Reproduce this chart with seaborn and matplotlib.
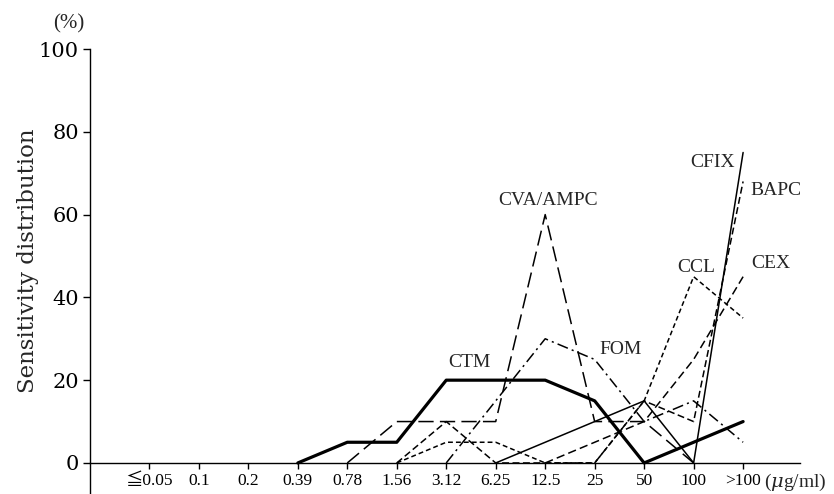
import numpy as np
import pandas as pd
import seaborn as sns
import matplotlib
matplotlib.use("Agg")
from matplotlib import pyplot as plt

nan = np.nan

# MIC classes (x axis)
mic_labels = ['≦0.05', '0.1', '0.2', '0.39', '0.78', '1.56', '3.12',
              '6.25', '12.5', '25', '50', '100', '>100']

# sensitivity distribution (%) per drug
ctm  = [nan, nan, nan, 0, 5, 5, 20, 20, 20, 15, 0, 5, 10]
cva  = [nan, nan, nan, nan, 0, 10, 10, 10, 60, 10, 10, 0, nan]
fom  = [nan, nan, nan, nan, nan, nan, 0, 15, 30, 25, 10, 15, 5]
ccl  = [nan, nan, nan, nan, nan, 0, 5, 5, 0, 0, 15, 45, 35]
cex  = [nan, nan, nan, nan, nan, nan, nan, nan, 0, 5, 10, 25, 45]
cfix = [nan, nan, nan, nan, nan, nan, nan, 0, 5, 10, 15, 0, 75]
bapc = [nan, nan, nan, nan, nan, 0, 10, 0, 0, 0, 15, 10, 68]

drugs = ['CTM', 'CVA/AMPC', 'FOM', 'CCL', 'CEX', 'CFIX', 'BAPC']
series = [ctm, cva, fom, ccl, cex, cfix, bapc]

rows = []
for name, vals in zip(drugs, series):
    for i, v in enumerate(vals):
        if not np.isnan(v):
            rows.append({'drug': name, 'x': i, 'pct': v})
df = pd.DataFrame(rows)

sns.set_style("ticks")
plt.rcParams['font.family'] = ['Liberation Serif', 'Noto Sans CJK JP']
plt.rcParams['mathtext.fontset'] = 'dejavuserif'
plt.rcParams['lines.scale_dashes'] = False

fig = plt.figure(figsize=(8.34, 4.94), dpi=100)
ax = fig.add_axes([90 / 834, 0, (800 - 90) / 834, (494 - 49) / 494])

dash_map = {
    'CTM': '',
    'CVA/AMPC': (11, 4.5),
    'FOM': (8, 3, 1.5, 3),
    'CCL': (3.5, 2.2),
    'CEX': (6, 3),
    'CFIX': '',
    'BAPC': (5, 2.5),
}
size_map = {d: 1.1 for d in drugs}
size_map['CTM'] = 2.3

sns.lineplot(data=df, x='x', y='pct', style='drug', size='drug',
             dashes=dash_map, sizes=size_map, color='black',
             legend=False, ax=ax, sort=False)

ax.set_xlim(-1.2, 13.15)
ax.set_ylim(-7.5, 100)
ax.spines['top'].set_visible(False)
ax.spines['right'].set_visible(False)
ax.spines['bottom'].set_position(('data', 0))
for s in ['bottom', 'left']:
    ax.spines[s].set_linewidth(1.0)
    ax.spines[s].set_color('black')

ax.set_xticks(range(len(mic_labels)))
ax.set_xticklabels(mic_labels, fontsize=12.5)
ax.set_yticks([0, 20, 40, 60, 80, 100])
ax.set_yticklabels(['0', '20', '40', '60', '80', '100'], fontsize=15,
                   family='DejaVu Serif')
ax.tick_params(axis='x', direction='out', length=4, width=1, pad=3, colors='black')
ax.tick_params(axis='y', direction='out', length=5, width=1, pad=3, colors='black')
ax.set_xlabel('')
ax.set_ylabel('')

ax.text(12.42, -2.2, '($\\mu$g/ml)', fontsize=14, ha='left', va='top',
        clip_on=False)

fig.text(69 / 834, 1 - 24 / 494, '(%)', fontsize=15, ha='center', va='center')
fig.text(28 / 834, 1 - 261 / 494, 'Sensitivity distribution', fontsize=16.5,
         rotation=90, ha='center', va='center', family='DejaVu Serif')

# labels next to the curves
labels = {
    'CTM': (6.46, 24.2),
    'CVA/AMPC': (8.05, 63.5),
    'FOM': (9.53, 27.3),
    'CFIX': (11.39, 72.5),
    'BAPC': (12.67, 65.9),
    'CCL': (11.05, 47.3),
    'CEX': (12.55, 48.3),
}
for name, (lx, ly) in labels.items():
    ax.text(lx, ly, name, fontsize=14, ha='center', va='center')

fig.savefig('out.png', dpi=100)
